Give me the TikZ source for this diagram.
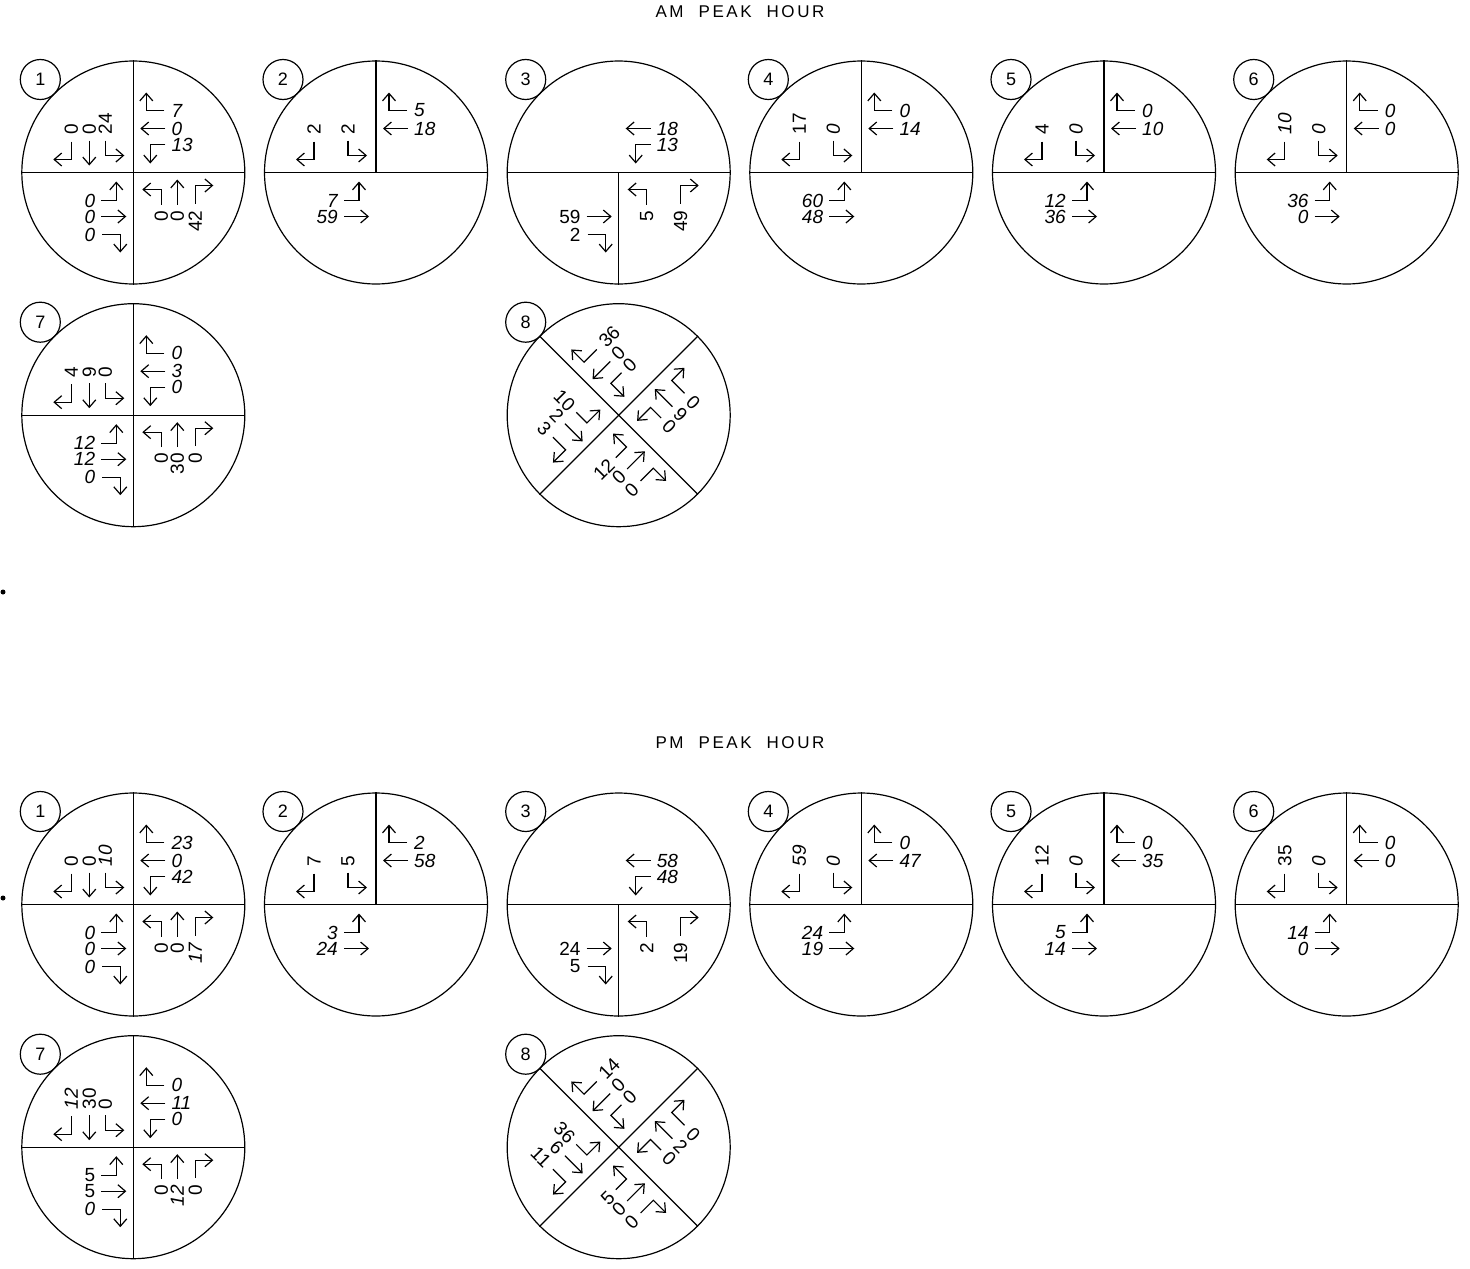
\documentclass[tikz,border=0pt]{standalone}
\usepackage{fontspec}
\setmainfont{Liberation Sans}
\usetikzlibrary{arrows.meta,calc}
\newcommand{\I}{\itshape}
\newcommand{\Wsp}{\hspace{15pt}}
\tikzset{
  mv/.style={line width=1.2pt,-{Straight Barb[length=7.5pt,width=13pt]}},
  lbl/.style={inner sep=0pt,font=\fontsize{19}{19}\selectfont},
  ring/.style={circle,draw,line width=1.2pt,minimum size=223pt,inner sep=0pt},
  tagc/.style={circle,draw,line width=1.2pt,minimum size=40pt,inner sep=0pt,font=\fontsize{18}{18}\selectfont},
  divl/.style={line width=1.2pt},
  ttl/.style={inner sep=0pt,font=\fontsize{17}{17}\selectfont\addfontfeatures{LetterSpace=15}},
  dotm/.style={circle,fill,inner sep=0pt,minimum size=5pt}
}
% #1 ring name, #2 approach tag, #3 frame angle, #4 text angle, #5 anchor, #6 R, #7 T, #8 L
\newcommand{\Appr}[8]{%
 \begin{scope}[shift={(#1.center)},rotate=#3]
  \if\relax\detokenize{#6}\relax\else
   \draw[mv] (-62,31) -- (-62,13) -- (-80,13);
   \node[lbl,rotate=#4,anchor=#5] (#1-#2-r) at (-62,38) {#6};
  \fi
  \if\relax\detokenize{#7}\relax\else
   \draw[mv] (-44,32) -- (-44,7);
   \node[lbl,rotate=#4,anchor=#5] (#1-#2-t) at (-44,38) {#7};
  \fi
  \if\relax\detokenize{#8}\relax\else
   \draw[mv] (-28,32) -- (-28,17) -- (-9,17);
   \node[lbl,rotate=#4,anchor=#5] (#1-#2-l) at (-28,38) {#8};
  \fi
 \end{scope}}
\newcommand{\Ring}[4]{%
 \node[ring] (#1) at (#2,#3) {};
 \node[tagc] (#1-tag) at ($(#1.center)+(-93,93)$) {#4};}
\newcommand{\FourLeg}[1]{\draw[divl] (#1.north) -- (#1.south); \draw[divl] (#1.west) -- (#1.east);}
\newcommand{\TeeN}[1]{\draw[divl] (#1.north) -- (#1.center); \draw[divl] (#1.west) -- (#1.east);}
\newcommand{\TeeS}[1]{\draw[divl] (#1.center) -- (#1.south); \draw[divl] (#1.west) -- (#1.east);}
\newcommand{\Diag}[1]{\draw[divl] (#1.135) -- (#1.-45); \draw[divl] (#1.45) -- (#1.-135);}
\begin{document}
\begin{tikzpicture}[x=1pt,y=1pt]
\useasboundingbox (0,0) rectangle (1470,-1269);
\node[ttl] (amtitle) at (740,-12) {AM\Wsp PEAK\Wsp HOUR};
\node[ttl] (pmtitle) at (740,-743) {PM\Wsp PEAK\Wsp HOUR};
\node[dotm] (dotA) at (3,-592) {};
\node[dotm] (dotB) at (3,-898) {};
% ================= AM =================
\Ring{a1}{133.3}{-172.5}{1}\FourLeg{a1}
\Appr{a1}{sb}{0}{90}{west}{0}{0}{24}
\Appr{a1}{wb}{-90}{0}{west}{\I 7}{\I 0}{\I 13}
\Appr{a1}{eb}{90}{0}{east}{\I 0}{\I 0}{\I 0}
\Appr{a1}{nb}{180}{90}{east}{42}{0}{0}
\Ring{a2}{376.0}{-172.5}{2}\TeeN{a2}
\Appr{a2}{sb}{0}{90}{west}{2}{}{2}
\Appr{a2}{wb}{-90}{0}{west}{\I 5}{\I 18}{}
\Appr{a2}{eb}{90}{0}{east}{}{\I 59}{\I 7}
\Ring{a3}{618.7}{-172.5}{3}\TeeS{a3}
\Appr{a3}{wb}{-90}{0}{west}{}{\I 18}{\I 13}
\Appr{a3}{eb}{90}{0}{east}{2}{59}{}
\Appr{a3}{nb}{180}{90}{east}{49}{}{5}
\Ring{a4}{861.3}{-172.5}{4}\TeeN{a4}
\Appr{a4}{sb}{0}{90}{west}{17}{}{\I 0}
\Appr{a4}{wb}{-90}{0}{west}{\I 0}{\I 14}{}
\Appr{a4}{eb}{90}{0}{east}{}{\I 48}{\I 60}
\Ring{a5}{1104.0}{-172.5}{5}\TeeN{a5}
\Appr{a5}{sb}{0}{90}{west}{4}{}{\I 0}
\Appr{a5}{wb}{-90}{0}{west}{\I 0}{\I 10}{}
\Appr{a5}{eb}{90}{0}{east}{}{\I 36}{\I 12}
\Ring{a6}{1346.7}{-172.5}{6}\TeeN{a6}
\Appr{a6}{sb}{0}{90}{west}{\I 10}{}{\I 0}
\Appr{a6}{wb}{-90}{0}{west}{\I 0}{\I 0}{}
\Appr{a6}{eb}{90}{0}{east}{}{\I 0}{\I 36}
\Ring{a7}{133.3}{-415.2}{7}\FourLeg{a7}
\Appr{a7}{sb}{0}{90}{west}{4}{9}{0}
\Appr{a7}{wb}{-90}{0}{west}{\I 0}{\I 3}{\I 0}
\Appr{a7}{eb}{90}{0}{east}{\I 0}{\I 12}{\I 12}
\Appr{a7}{nb}{180}{90}{east}{0}{30}{0}
\Ring{a8}{618.7}{-415.2}{8}\Diag{a8}
\Appr{a8}{sb}{45}{-45}{east}{3}{2}{10}
\Appr{a8}{wb}{-45}{45}{west}{36}{0}{0}
\Appr{a8}{eb}{135}{45}{east}{0}{0}{12}
\Appr{a8}{nb}{225}{-45}{west}{0}{9}{0}
% ================= PM =================
\Ring{p1}{133.3}{-904.5}{1}\FourLeg{p1}
\Appr{p1}{sb}{0}{90}{west}{0}{0}{\I 10}
\Appr{p1}{wb}{-90}{0}{west}{\I 23}{\I 0}{\I 42}
\Appr{p1}{eb}{90}{0}{east}{\I 0}{\I 0}{\I 0}
\Appr{p1}{nb}{180}{90}{east}{\I 17}{0}{0}
\Ring{p2}{376.0}{-904.5}{2}\TeeN{p2}
\Appr{p2}{sb}{0}{90}{west}{7}{}{5}
\Appr{p2}{wb}{-90}{0}{west}{\I 2}{\I 58}{}
\Appr{p2}{eb}{90}{0}{east}{}{\I 24}{\I 3}
\Ring{p3}{618.7}{-904.5}{3}\TeeS{p3}
\Appr{p3}{wb}{-90}{0}{west}{}{\I 58}{\I 48}
\Appr{p3}{eb}{90}{0}{east}{5}{24}{}
\Appr{p3}{nb}{180}{90}{east}{19}{}{2}
\Ring{p4}{861.3}{-904.5}{4}\TeeN{p4}
\Appr{p4}{sb}{0}{90}{west}{\I 59}{}{\I 0}
\Appr{p4}{wb}{-90}{0}{west}{\I 0}{\I 47}{}
\Appr{p4}{eb}{90}{0}{east}{}{\I 19}{\I 24}
\Ring{p5}{1104.0}{-904.5}{5}\TeeN{p5}
\Appr{p5}{sb}{0}{90}{west}{12}{}{\I 0}
\Appr{p5}{wb}{-90}{0}{west}{\I 0}{\I 35}{}
\Appr{p5}{eb}{90}{0}{east}{}{\I 14}{\I 5}
\Ring{p6}{1346.7}{-904.5}{6}\TeeN{p6}
\Appr{p6}{sb}{0}{90}{west}{35}{}{\I 0}
\Appr{p6}{wb}{-90}{0}{west}{\I 0}{\I 0}{}
\Appr{p6}{eb}{90}{0}{east}{}{\I 0}{\I 14}
\Ring{p7}{133.3}{-1147.2}{7}\FourLeg{p7}
\Appr{p7}{sb}{0}{90}{west}{\I 12}{30}{0}
\Appr{p7}{wb}{-90}{0}{west}{\I 0}{\I 11}{\I 0}
\Appr{p7}{eb}{90}{0}{east}{\I 0}{5}{5}
\Appr{p7}{nb}{180}{90}{east}{0}{\I 12}{0}
\Ring{p8}{618.7}{-1147.2}{8}\Diag{p8}
\Appr{p8}{sb}{45}{-45}{east}{11}{6}{36}
\Appr{p8}{wb}{-45}{45}{west}{14}{0}{0}
\Appr{p8}{eb}{135}{45}{east}{0}{0}{5}
\Appr{p8}{nb}{225}{-45}{west}{0}{2}{0}
\end{tikzpicture}
\end{document}
